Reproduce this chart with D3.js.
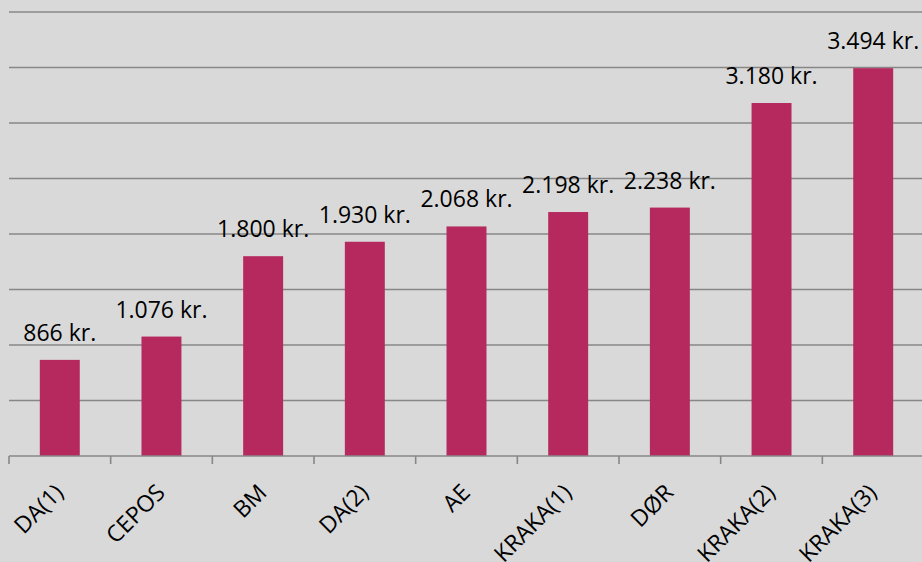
<!DOCTYPE html>
<html>
<head>
<meta charset="utf-8">
<script src="https://cdn.jsdelivr.net/npm/d3@7"></script>
<style>
  html, body { margin: 0; padding: 0; background: #d9d9d9; }
  svg { display: block; }
</style>
</head>
<body>
<div id="chart"></div>
<script>
const categories = ["DA(1)", "CEPOS", "BM", "DA(2)", "AE", "KRAKA(1)", "DØR", "KRAKA(2)", "KRAKA(3)"];
const values = [866, 1076, 1800, 1930, 2068, 2198, 2238, 3180, 3494];
const gridTicks = [0, 500, 1000, 1500, 2000, 2500, 3000, 3500, 4000];

const W = 922, H = 562;
const margin = { top: 12, right: -2, bottom: 106, left: 9 };
const width = W - margin.left - margin.right;
const height = H - margin.top - margin.bottom;

const svg = d3.select("#chart").append("svg")
  .attr("width", W).attr("height", H);

svg.append("rect").attr("width", W).attr("height", H).attr("fill", "#d9d9d9");

const g = svg.append("g").attr("transform", `translate(${margin.left},${margin.top})`);

const x = d3.scaleBand().domain(categories).range([0, width]).paddingInner(0.607).paddingOuter(0.303);
const xTicks = d3.scaleBand().domain(categories).range([0, width]);
const y = d3.scaleLinear().domain([0, 4000]).range([height, 0]);

const fmt = v => d3.format(",")(v).replace(/,/g, ".") + " kr.";

// gridlines
g.selectAll(".grid").data(gridTicks.slice(1)).enter().append("line")
  .attr("x1", 0).attr("x2", width + 10)
  .attr("y1", d => y(d)).attr("y2", d => y(d))
  .attr("stroke", "#878787").attr("stroke-width", 1.6);

// bars
g.selectAll(".bar").data(values).enter().append("rect")
  .attr("x", (d, i) => x(categories[i]))
  .attr("y", d => y(d))
  .attr("width", x.bandwidth())
  .attr("height", d => height - y(d))
  .attr("fill", "#b5295e");

// value labels
g.selectAll(".lbl").data(values).enter().append("text")
  .attr("x", (d, i) => x(categories[i]) + x.bandwidth() / 2)
  .attr("y", d => y(d) - 19)
  .attr("text-anchor", "middle")
  .attr("font-family", "Open Sans, sans-serif")
  .attr("font-size", 23)
  .attr("fill", "#000")
  .text(fmt);

// x axis
g.append("line").attr("x1", 0).attr("x2", width + 10)
  .attr("y1", height).attr("y2", height)
  .attr("stroke", "#878787").attr("stroke-width", 1.6);
g.selectAll(".tick").data(categories).enter().append("line")
  .attr("x1", d => xTicks(d)).attr("x2", d => xTicks(d))
  .attr("y1", height).attr("y2", height + 8)
  .attr("stroke", "#878787").attr("stroke-width", 1.6);

g.selectAll(".xl").data(categories).enter().append("text")
  .attr("transform", d => `translate(${xTicks(d) + xTicks.bandwidth() / 2 + 5},${height + 38}) rotate(-45)`)
  .attr("text-anchor", "end")
  .attr("font-family", "Open Sans, sans-serif")
  .attr("font-size", 23)
  .attr("fill", "#000")
  .text(d => d);
</script>
</body>
</html>
